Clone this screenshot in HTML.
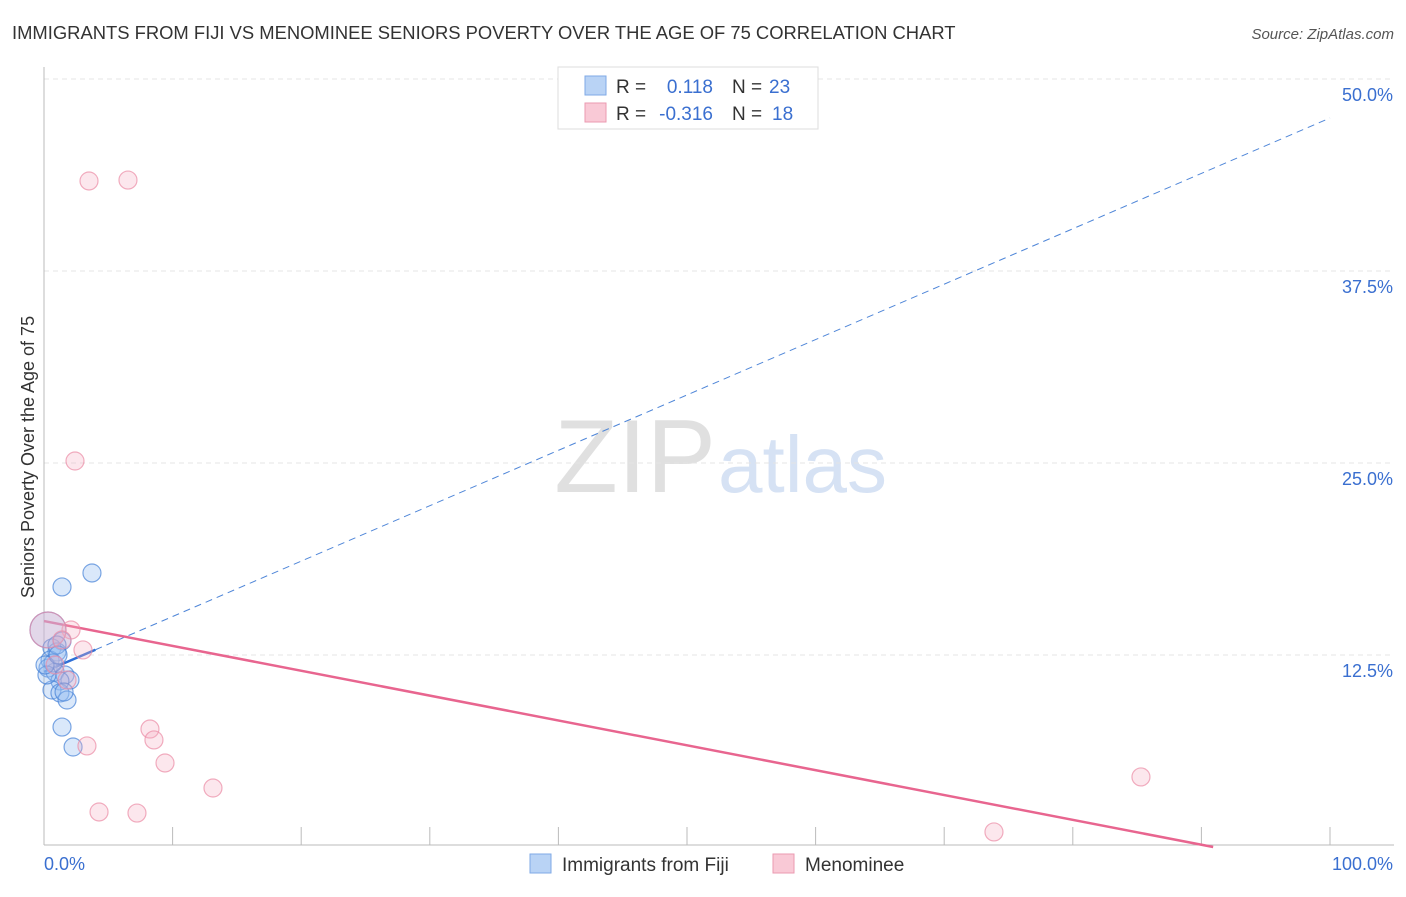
<!DOCTYPE html>
<html><head><meta charset="utf-8"><style>
body{margin:0;background:#fff;font-family:"Liberation Sans",sans-serif;}
svg text{font-family:"Liberation Sans",sans-serif;}
</style></head><body>
<svg id="chart" width="1406" height="892" xmlns="http://www.w3.org/2000/svg">
<text x="12" y="39" font-size="18.4" fill="#333">IMMIGRANTS FROM FIJI VS MENOMINEE SENIORS POVERTY OVER THE AGE OF 75 CORRELATION CHART</text>
<text x="1394" y="39" font-size="15" fill="#555" font-style="italic" text-anchor="end">Source: ZipAtlas.com</text>
<text x="34" y="457" font-size="18" fill="#333" text-anchor="middle" transform="rotate(-90 34 457)">Seniors Poverty Over the Age of 75</text>
<text x="716" y="492" font-size="104" fill="#e0e0e0" text-anchor="end" font-family="Liberation Serif">ZIP</text>
<text x="718" y="492" font-size="80" fill="#d6e2f4">atlas</text>
<g id="grid"></g><g id="axes"></g><g id="lines"></g><g id="pts"></g>
<g>
<rect x="558" y="67" width="260" height="62" fill="#fff" stroke="#ddd"/>
<rect x="585" y="76" width="21" height="19" fill="#b9d3f5" stroke="#7fa9e6"/>
<rect x="585" y="103" width="21" height="19" fill="#f9c9d6" stroke="#eb9ab0"/>
<text x="616" y="93" font-size="19" fill="#333">R =</text><text x="713" y="93" font-size="19" fill="#3a6fd0" text-anchor="end">0.118</text>
<text x="732" y="93" font-size="19" fill="#333">N =</text><text x="769" y="93" font-size="19" fill="#3a6fd0">23</text>
<text x="616" y="120" font-size="19" fill="#333">R =</text><text x="713" y="120" font-size="19" fill="#3a6fd0" text-anchor="end">-0.316</text>
<text x="732" y="120" font-size="19" fill="#333">N =</text><text x="772" y="120" font-size="19" fill="#3a6fd0">18</text>
</g>
<g>
<rect x="530" y="854" width="21" height="19" fill="#b9d3f5" stroke="#7fa9e6"/>
<text x="562" y="871" font-size="19" fill="#333">Immigrants from Fiji</text>
<rect x="773" y="854" width="21" height="19" fill="#f9c9d6" stroke="#eb9ab0"/>
<text x="805" y="871" font-size="19" fill="#333">Menominee</text>
</g>
</svg>
<script>
const yTicks=[12.5,25,37.5,50];
const yTickLabels=["12.5%","25.0%","37.5%","50.0%"];
const xTickLabels=["0.0%","100.0%"];
const fijiX=[3.73,1.40,0.31,1.40,0.62,1.01,0.47,0.31,0.86,1.63,2.02,1.24,0.62,1.24,1.79,1.40,2.26,1.01,0.70,0.23,1.56,0.08,1.09];
const fijiY=[17.84,16.93,14.13,13.41,12.96,12.70,12.17,11.65,11.39,11.20,10.87,10.81,10.22,10.03,9.57,7.81,6.51,13.15,11.98,11.20,10.09,11.85,12.50];
const fijiR=[9,9,18,9,9,9,9,9,9,9,9,9,9,9,9,9,9,9,9,9,9,9,9];
const menX=[3.50,6.53,2.41,2.10,0.31,3.03,1.40,0.86,1.79,8.24,8.55,3.34,9.41,13.14,4.28,7.23,85.30,73.87];
const menY=[43.36,43.42,25.13,14.13,14.13,12.83,13.48,11.85,10.87,7.68,6.97,6.58,5.47,3.84,2.28,2.21,4.56,0.98];
const menR=[9,9,9,9,18,9,9,9,9,9,9,9,9,9,9,9,9,9];
const fijiTrend=[11.4,47.46];
const menTrend=[14.71,-1.47];
const X=v=>44+v*12.86, Y=v=>847-v*15.36;
const NS="http://www.w3.org/2000/svg";
function mk(p,t,a){const e=document.createElementNS(NS,t);for(const k in a)e.setAttribute(k,a[k]);document.getElementById(p).appendChild(e);return e;}
yTicks.forEach((t,i)=>{
 const g=mk('grid','line',{x1:44,x2:1394,y1:Y(t),y2:Y(t),stroke:'#e4e4e4','stroke-dasharray':'5,4'});
 
 
 const l=mk('axes','text',{x:1393,y:Y(t)+22,'font-size':18,fill:'#3a6fd0','text-anchor':'end'});
 l.textContent=yTickLabels[i];
 
 
});
let a=mk('axes','line',{x1:44,x2:44,y1:67,y2:845,stroke:'#bbb'});


a=mk('axes','line',{x1:44,x2:1394,y1:845,y2:845,stroke:'#bbb'});


for(let i=1;i<=10;i++){const t=mk('axes','line',{x1:X(i*10),x2:X(i*10),y1:827,y2:845,stroke:'#bbb'});
 
 }
let t=mk('axes','text',{x:44,y:870,'font-size':18,fill:'#3a6fd0'});t.textContent=xTickLabels[0];


t=mk('axes','text',{x:1393,y:870,'font-size':18,fill:'#3a6fd0','text-anchor':'end'});t.textContent=xTickLabels[1];


function pts(xs,ys,rs,fill,stroke,name){xs.forEach((x,i)=>{const c=mk('pts','circle',{cx:X(x),cy:Y(ys[i]),r:rs[i],fill:fill,stroke:stroke,'stroke-width':1.2});
 
 });}
pts(fijiX,fijiY,fijiR,'rgba(150,190,240,0.35)','rgba(70,130,215,0.7)','fiji-point');
pts(menX,menY,menR,'rgba(245,175,195,0.3)','rgba(235,140,165,0.7)','menominee-point');
const fy=x=>fijiTrend[0]+(fijiTrend[1]-fijiTrend[0])*x/100;
let l=mk('lines','line',{x1:X(4),y1:Y(fy(4)),x2:X(100),y2:Y(fy(100)),stroke:'#4f86d8','stroke-width':1,'stroke-dasharray':'7,5'});


l=mk('lines','line',{x1:X(0),y1:Y(fy(0)),x2:X(4),y2:Y(fy(4)),stroke:'#2f6fd6','stroke-width':2.5});


const mEnd=Math.min(100,menTrend[0]/(menTrend[0]-menTrend[1])*100);
const my=x=>menTrend[0]+(menTrend[1]-menTrend[0])*x/100;
l=mk('lines','line',{x1:X(0),y1:Y(my(0)),x2:X(mEnd),y2:Y(my(mEnd)),stroke:'#e8658f','stroke-width':2.5});


</script>
</body></html>
